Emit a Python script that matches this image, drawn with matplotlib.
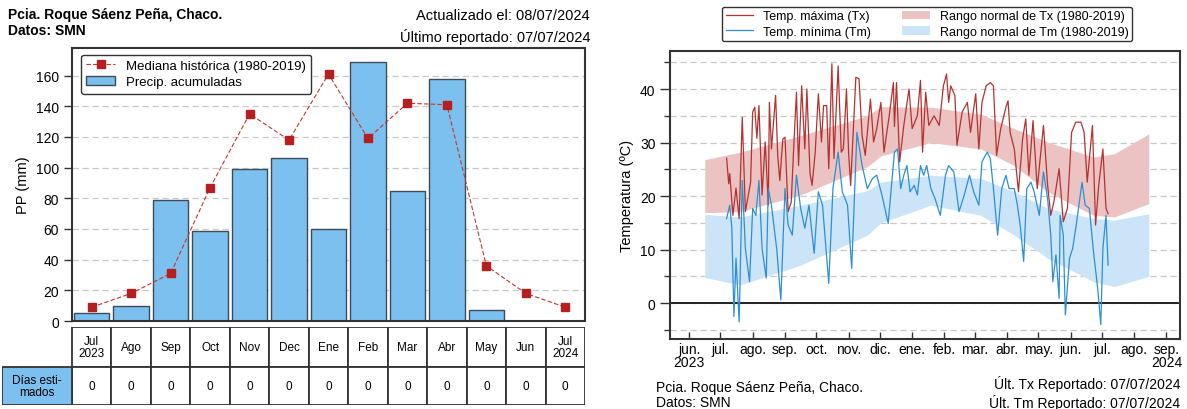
import numpy as np
import matplotlib
matplotlib.use('Agg')
import matplotlib.pyplot as plt
import matplotlib.dates as mdates
from matplotlib.patches import Rectangle, Patch
from matplotlib.lines import Line2D
from matplotlib.ticker import MultipleLocator

plt.rcParams['font.family'] = ['Liberation Sans', 'DejaVu Sans']

# ---------------- data: precipitation ----------------
months = ['Jul\n2023', 'Ago', 'Sep', 'Oct', 'Nov', 'Dec', 'Ene', 'Feb', 'Mar',
          'Abr', 'May', 'Jun', 'Jul\n2024']
precip = [5, 10, 79, 59, 99, 106, 60, 169, 85, 158, 7, 0, 0]
median_hist = [9, 18, 31, 87, 135, 118, 161, 119, 142, 141, 36, 18, 9]
est_days = [0, 0, 0, 0, 0, 0, 0, 0, 0, 0, 0, 0, 0]

# ---------------- data: temperature (day offsets from base date) ----------------
base_date = np.datetime64('2023-06-01')
tx_day = [36, 38, 39, 42, 45, 48, 51, 54, 59, 61, 63, 65, 67, 70, 73, 76, 77, 79, 83, 85,
          87, 90, 92, 95, 98, 100, 103, 105, 108, 111, 113, 116, 118, 121, 124, 127, 129,
          132, 134, 137, 139, 143, 146, 148, 151, 153, 155, 160, 163, 166, 169, 174, 177,
          180, 184, 187, 192, 196, 197, 199, 202, 206, 211, 214, 219, 222, 224, 227, 230,
          235, 240, 244, 247, 249, 251, 255, 257, 262, 267, 270, 275, 278, 281, 285, 289,
          292, 295, 299, 304, 306, 308, 312, 316, 320, 323, 326, 330, 334, 340, 344, 347,
          350, 355, 359, 363, 367, 371, 376, 379, 382, 387, 390, 393, 397, 400, 402]
tx_val = [27.1, 22.3, 24.2, 16.4, 21.5, 15.8, 34.7, 17.1, 22.6, 35.7, 36.6, 30.8, 36.9,
          20.2, 30.1, 18.3, 37.5, 28.8, 38.8, 27.6, 22.9, 30.7, 31.0, 17.1, 18.9, 27.6,
          39.4, 25.7, 40.6, 28.8, 40.0, 24.2, 22.0, 28.2, 39.1, 30.1, 36.9, 36.9, 25.1,
          44.7, 27.0, 44.3, 28.2, 28.8, 40.0, 28.2, 22.0, 42.2, 41.9, 31.3, 27.6, 38.1,
          30.1, 32.6, 37.5, 28.2, 35.0, 41.2, 33.0, 41.2, 26.4, 33.2, 40.0, 32.6, 35.0,
          41.6, 28.2, 39.4, 33.2, 35.0, 33.2, 40.6, 42.8, 37.5, 40.6, 38.8, 29.5, 35.7,
          37.5, 31.9, 39.1, 28.8, 37.5, 40.6, 41.2, 40.6, 27.6, 32.6, 36.6, 37.8, 31.9,
          28.8, 20.8, 30.7, 34.4, 23.9, 34.1, 21.4, 33.2, 22.0, 16.4, 18.9, 25.1, 15.2,
          17.7, 31.9, 33.8, 33.8, 31.9, 22.6, 33.2, 14.6, 22.0, 28.8, 17.7, 16.7]

tm_day = [36, 39, 41, 43, 45, 48, 51, 54, 58, 61, 64, 67, 70, 74, 76, 79, 84, 88, 92, 95,
          99, 103, 107, 111, 115, 120, 124, 128, 134, 138, 143, 147, 152, 156, 161, 166,
          171, 176, 180, 185, 191, 197, 200, 203, 206, 209, 212, 216, 219, 222, 225, 228,
          232, 236, 241, 246, 249, 254, 259, 264, 269, 273, 278, 281, 286, 289, 292, 296,
          300, 304, 307, 312, 315, 318, 321, 324, 328, 331, 336, 340, 344, 347, 349, 352,
          355, 356, 359, 361, 365, 368, 371, 374, 377, 380, 384, 388, 392, 395, 397, 400, 402]
tm_val = [15.8, 18.3, 14.0, -2.5, 8.4, -3.5, 22.9, 10.2, 4.0, 17.7, 16.4, 22.9, 10.2, 4.7,
          21.4, 18.3, 10.2, 0.6, 21.4, 14.6, 12.7, 23.9, 17.7, 14.0, 18.3, 9.3, 20.8, 18.3,
          3.7, 21.4, 28.2, 20.8, 18.3, 6.5, 31.9, 25.7, 21.4, 23.3, 23.9, 20.2, 14.9, 28.2,
          28.8, 21.4, 23.9, 25.7, 20.8, 22.0, 20.2, 25.7, 23.9, 25.7, 21.4, 19.5, 16.4,
          23.9, 25.7, 24.5, 17.1, 20.2, 23.9, 20.8, 18.3, 26.4, 28.2, 27.0, 21.4, 12.7,
          21.4, 23.9, 21.4, 21.4, 18.3, 14.0, 7.8, 21.4, 22.6, 20.8, 16.4, 24.5, 19.5,
          12.7, 4.0, 9.0, 0.9, 16.4, 12.7, -2.2, 8.4, 10.2, 14.0, 18.3, 22.6, 18.3, 17.7,
          9.6, 2.8, -4.0, 10.2, 16.4, 7.1]

band_day = [15, 49, 107, 171, 184, 232, 280, 312, 344, 388, 408, 441]
tx_hi = [26.8, 28.2, 31.3, 35.0, 36.7, 36.6, 35.3, 32.6, 30.1, 27.3, 27.9, 31.6]
tx_lo = [16.9, 17.1, 20.2, 25.5, 27.5, 30.0, 28.8, 25.7, 20.8, 16.4, 16.1, 18.6]
tm_hi = [16.6, 16.1, 18.3, 21.0, 22.6, 23.9, 23.3, 20.8, 17.7, 15.8, 15.5, 16.7]
tm_lo = [4.8, 3.4, 7.1, 12.7, 15.0, 18.3, 16.4, 12.7, 8.4, 4.0, 3.1, 5.0]

month_ticks = ['2023-06-01', '2023-07-01', '2023-08-01', '2023-09-01', '2023-10-01',
               '2023-11-01', '2023-12-01', '2024-01-01', '2024-02-01', '2024-03-01',
               '2024-04-01', '2024-05-01', '2024-06-01', '2024-07-01', '2024-08-01',
               '2024-09-01']
month_labels = ['jun.\n2023', 'jul.', 'ago.', 'sep.', 'oct.', 'nov.', 'dic.', 'ene.',
                'feb.', 'mar.', 'abr.', 'may.', 'jun.', 'jul.', 'ago.', 'sep.\n2024']

# ---------------- figure ----------------
W, H = 1187, 410
fig = plt.figure(figsize=(W / 100, H / 100), dpi=100)
edge = '#333333'

# ---- left: precipitation ----
ax1 = fig.add_axes([72 / W, 1 - 322 / H, 513 / W, 273 / H])
x = np.arange(len(months))
ax1.bar(x, precip, width=0.9, color='#7cc0ef', edgecolor='#3e4a58', linewidth=1.0,
        label='Precip. acumuladas', zorder=2)
ax1.plot(x, median_hist, ls=(0, (4, 2)), lw=0.8, color='#c0392b', marker='s', ms=6,
         mfc='#b51f1f', mec='#b51f1f', label='Mediana histórica (1980-2019)', zorder=3)
ax1.set_xlim(-0.5, 12.5)
ax1.set_ylim(0, 178)
ax1.set_yticks(range(0, 161, 20))
ax1.set_xticks([])
ax1.grid(axis='y', ls=(0, (5, 3)), color='#c8c8c8', lw=0.9, zorder=0)
ax1.set_axisbelow(True)
ax1.set_ylabel('PP (mm)', fontsize=10.5)
ax1.tick_params(axis='y', labelsize=10, length=6, width=1, color=edge)
for s in ax1.spines.values():
    s.set_color(edge)
    s.set_linewidth(1.5)
h, l = ax1.get_legend_handles_labels()
order = [l.index('Mediana histórica (1980-2019)'), l.index('Precip. acumuladas')]
ax1.legend([h[i] for i in order], [l[i] for i in order], loc='upper left',
           fontsize=9.5, frameon=True, edgecolor=edge, framealpha=1,
           borderpad=0.4, labelspacing=0.3, handlelength=2.2,
           bbox_to_anchor=(0.005, 1.0))

# ---- table below ----
axt = fig.add_axes([2 / W, 1 - 406 / H, 583 / W, 78 / H])
lab_w = 70 / (513 / 13)
axt.set_xlim(-0.5 - lab_w, 12.5)
axt.set_ylim(0, 78)
axt.axis('off')
for i, m in enumerate(months):
    axt.add_patch(Rectangle((i - 0.5, 38), 1, 40, fc='white', ec=edge, lw=1.3))
    axt.text(i, 58, m, ha='center', va='center', fontsize=8.5, linespacing=1.1)
    axt.add_patch(Rectangle((i - 0.5, 0), 1, 38, fc='white', ec=edge, lw=1.3))
    axt.text(i, 19, str(est_days[i]), ha='center', va='center', fontsize=8.5)
axt.add_patch(Rectangle((-0.5 - lab_w, 0), lab_w, 38, fc='#7cc0ef', ec=edge, lw=1.3))
axt.text(-0.5 - lab_w / 2, 19, 'Días esti-\nmados', ha='center', va='center',
         fontsize=8.5, linespacing=1.1)

# ---- header texts ----
fig.text(8 / W, 1 - 15 / H, 'Pcia. Roque Sáenz Peña, Chaco.', fontsize=10,
         weight='bold', va='center')
fig.text(8 / W, 1 - 31 / H, 'Datos: SMN', fontsize=10, weight='bold', va='center')
fig.text(590 / W, 1 - 16 / H, 'Actualizado el: 08/07/2024', fontsize=10.5,
         ha='right', va='center')
fig.text(590 / W, 1 - 37 / H, 'Último reportado: 07/07/2024', fontsize=10.5,
         ha='right', va='center')

# ---- right: temperature ----
ax2 = fig.add_axes([670 / W, 1 - 340 / H, 510 / W, 288 / H])
bd = base_date + np.array(band_day).astype('timedelta64[D]')
txd = base_date + np.array(tx_day).astype('timedelta64[D]')
tmd = base_date + np.array(tm_day).astype('timedelta64[D]')
ax2.fill_between(bd, tx_lo, tx_hi, color='#ecc3c3', lw=0, zorder=1)
ax2.fill_between(bd, tm_lo, tm_hi, color='#cce4f7', lw=0, zorder=1)
ax2.plot(txd, tx_val, color='#b3322f', lw=0.9, zorder=3)
ax2.plot(tmd, tm_val, color='#2b8fd6', lw=0.9, zorder=3)
ax2.axhline(0, color='#222222', lw=1.4, zorder=2)
ax2.set_xlim(np.datetime64('2023-05-13T16:00'), np.datetime64('2024-09-14'))
ax2.set_ylim(-6.7, 47.1)
ax2.yaxis.set_major_locator(MultipleLocator(10))
ax2.yaxis.set_minor_locator(MultipleLocator(5))
ax2.set_yticks([0, 10, 20, 30, 40])
ax2.grid(axis='y', which='both', ls=(0, (5, 3)), color='#c8c8c8', lw=0.9, zorder=0)
ax2.set_axisbelow(True)
ax2.set_xticks([np.datetime64(d) for d in month_ticks])
ax2.set_xticklabels(month_labels, fontsize=10, linespacing=0.9)
ax2.tick_params(axis='x', direction='in', length=5, width=1, pad=2, color=edge)
ax2.tick_params(axis='y', which='major', labelsize=10, length=7, width=1, color=edge)
ax2.tick_params(axis='y', which='minor', length=4, width=1, color=edge)
ax2.set_ylabel('Temperatura (ºC)', fontsize=10.5)
for s in ax2.spines.values():
    s.set_color(edge)
    s.set_linewidth(1.5)

handles = [Line2D([], [], color='#b3322f', lw=0.9),
           Line2D([], [], color='#2b8fd6', lw=0.9),
           Patch(fc='#ecc3c3', ec='none'),
           Patch(fc='#cce4f7', ec='none')]
labels = ['Temp. máxima (Tx)', 'Temp. mínima (Tm)',
          'Rango normal de Tx (1980-2019)', 'Rango normal de Tm (1980-2019)']
fig.legend(handles, labels, loc='center', bbox_to_anchor=(927 / W, 1 - 25 / H),
           ncol=2, fontsize=9, frameon=True, edgecolor=edge, framealpha=1,
           borderpad=0.3, labelspacing=0.25, columnspacing=2.5, handlelength=2.2)

fig.text(656 / W, 1 - 388 / H, 'Pcia. Roque Sáenz Peña, Chaco.', fontsize=10, va='center')
fig.text(656 / W, 1 - 403 / H, 'Datos: SMN', fontsize=10, va='center')
fig.text(1180 / W, 1 - 384 / H, 'Últ. Tx Reportado: 07/07/2024', fontsize=10,
         ha='right', va='center')
fig.text(1180 / W, 1 - 403 / H, 'Últ. Tm Reportado: 07/07/2024', fontsize=10,
         ha='right', va='center')

fig.savefig('out.png', dpi=100)
